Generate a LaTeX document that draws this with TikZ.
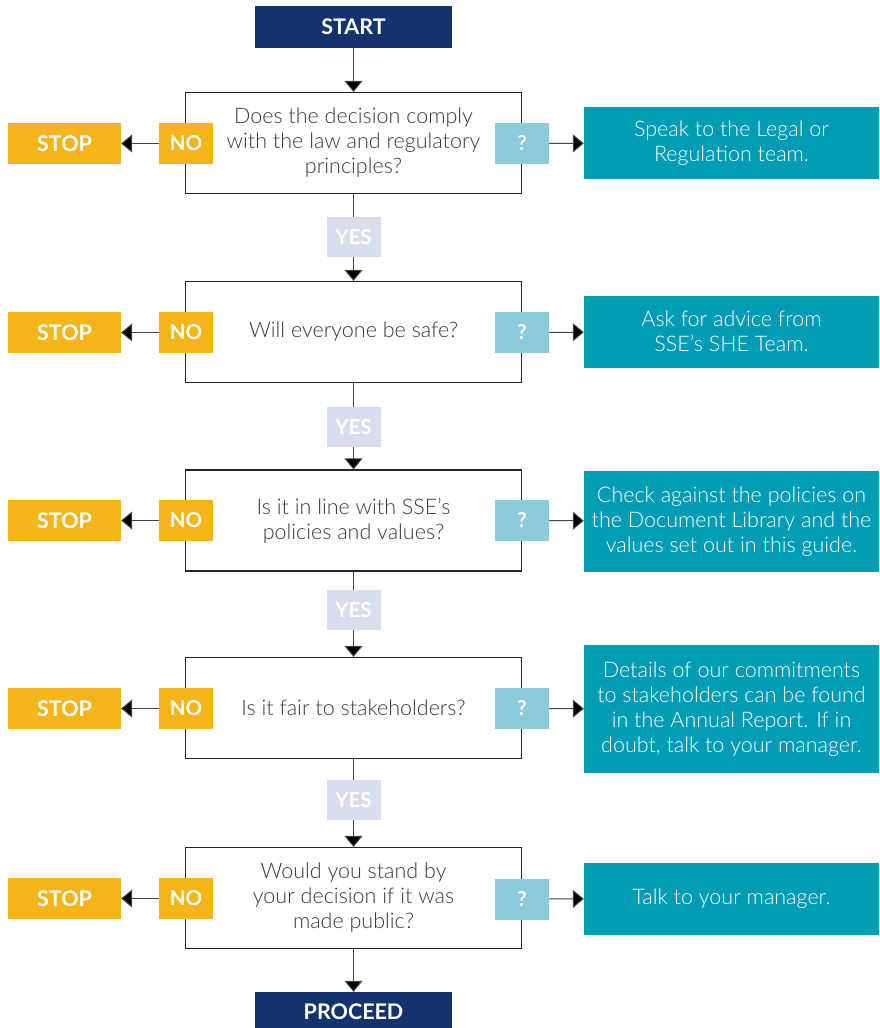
\documentclass[tikz,border=0pt]{standalone}
\usepackage{fontspec}
\setmainfont{Lato}
\newfontfamily\lightfont{Lato Light}
\usetikzlibrary{arrows.meta}

\definecolor{navy}{HTML}{14326E}
\definecolor{amber}{HTML}{F5B51A}
\definecolor{sky}{HTML}{8BCBDC}
\definecolor{infoteal}{HTML}{009BB4}
\definecolor{pale}{HTML}{D7DDEC}
\definecolor{ink}{HTML}{3A3A3A}
\definecolor{wire}{HTML}{444444}

\tikzset{
  question/.style={draw=black!85, line width=1.2pt, fill=white,
    minimum width=336pt, minimum height=101pt, inner sep=0pt,
    align=center, text=ink, font=\lightfont\fontsize{21.5}{25}\selectfont},
  endbox/.style={fill=navy, text=white, minimum width=197pt,
    inner sep=0pt, font=\fontsize{21.5}{22}\selectfont\bfseries},
  tag/.style={minimum width=54pt, minimum height=41pt, inner sep=0pt,
    text=white, font=\fontsize{20.5}{22}\selectfont\bfseries},
  notag/.style={tag, fill=amber},
  asktag/.style={tag, fill=sky},
  yestag/.style={tag, fill=pale, minimum height=40pt},
  stopbox/.style={fill=amber, text=white, minimum width=113pt,
    minimum height=41pt, inner sep=0pt,
    font=\fontsize{21.5}{22}\selectfont\bfseries},
  infobox/.style={fill=infoteal, text=white, minimum width=295pt,
    inner sep=0pt, align=center, font=\lightfont\fontsize{21.5}{25}\selectfont},
  link/.style={draw=wire, line width=1pt},
  flow/.style={link, -{Triangle[width=18pt,length=11pt,fill=black]}}
}

\def\midX{353.5}
\def\tagL{186}
\def\tagR{522}
\def\stopX{64.5}
\def\infoX{731.5}

\begin{document}
\begin{tikzpicture}[x=1pt, y=-1pt]
      \useasboundingbox (0,0) rectangle (879,1028);

      \node[endbox, minimum height=42pt] (start) at (\midX, 27) {START};
      \node[endbox, minimum height=40pt] (proceed) at (\midX, 1012) {PROCEED};

      % Questions
      \node[question] (q1) at (\midX, 143)
        {Does the decision comply\\with the law and regulatory\\principles?};
      \node[question] (q2) at (\midX, 332)
        {Will everyone be safe?};
      \node[question] (q3) at (\midX, 520.5)
        {Is it in line with SSE’s\\policies and values?};
      \node[question] (q4) at (\midX, 708)
        {Is it fair to stakeholders?};
      \node[question] (q5) at (\midX, 898)
        {Would you stand by\\your decision if it was\\made public?};

      \node[yestag] (yes1) at (\midX, 237) {YES};
      \node[yestag] (yes2) at (\midX, 427) {YES};
      \node[yestag] (yes3) at (\midX, 610) {YES};
      \node[yestag] (yes4) at (\midX, 800) {YES};

      \node[notag] (no1) at (\tagL, 143.5) {NO};
      \node[notag] (no2) at (\tagL, 332.5) {NO};
      \node[notag] (no3) at (\tagL, 520.5) {NO};
      \node[notag] (no4) at (\tagL, 708.5) {NO};
      \node[notag] (no5) at (\tagL, 898.5) {NO};

      \node[stopbox] (stop1) at (\stopX, 143.5) {STOP};
      \node[stopbox] (stop2) at (\stopX, 332.5) {STOP};
      \node[stopbox] (stop3) at (\stopX, 520.5) {STOP};
      \node[stopbox] (stop4) at (\stopX, 708.5) {STOP};
      \node[stopbox] (stop5) at (\stopX, 898.5) {STOP};

      \node[asktag] (ask1) at (\tagR, 143.5) {?};
      \node[asktag] (ask2) at (\tagR, 332.5) {?};
      \node[asktag] (ask3) at (\tagR, 520.5) {?};
      \node[asktag] (ask4) at (\tagR, 708.5) {?};
      \node[asktag] (ask5) at (\tagR, 899) {?};

      % Advice
      \node[infobox, minimum height=72pt] (info1) at (\infoX, 143)
        {Speak to the Legal or\\Regulation team.};
      \node[infobox, minimum height=72pt] (info2) at (\infoX, 331.5)
        {Ask for advice from\\SSE’s SHE Team.};
      \node[infobox, minimum height=101pt] (info3) at (\infoX, 521.5)
        {Check against the policies on\\the Document Library and the\\values set out in this guide.};
      \node[infobox, minimum height=128pt] (info4) at (\infoX, 709)
        {Details of our commitments\\to stakeholders can be found\\in the Annual Report. If in\\doubt, talk to your manager.};
      \node[infobox, minimum height=72pt] (info5) at (\infoX, 898.5)
        {Talk to your manager.};

      % Connectors
      \draw[flow] (start) -- (q1);
      \draw[link] (q1) -- (yes1);
      \draw[flow] (yes1) -- (q2);
      \draw[link] (q2) -- (yes2);
      \draw[flow] (yes2) -- (q3);
      \draw[link] (q3) -- (yes3);
      \draw[flow] (yes3) -- (q4);
      \draw[link] (q4) -- (yes4);
      \draw[flow] (yes4) -- (q5);
      \draw[flow] (q5) -- (proceed);

      \draw[flow] (no1) -- (stop1);
      \draw[flow] (no2) -- (stop2);
      \draw[flow] (no3) -- (stop3);
      \draw[flow] (no4) -- (stop4);
      \draw[flow] (no5) -- (stop5);

      \draw[flow] (ask1) -- (info1);
      \draw[flow] (ask2) -- (info2);
      \draw[flow] (ask3) -- (info3);
      \draw[flow] (ask4) -- (info4);
      \draw[flow] (ask5) -- (info5);
\end{tikzpicture}
\end{document}
